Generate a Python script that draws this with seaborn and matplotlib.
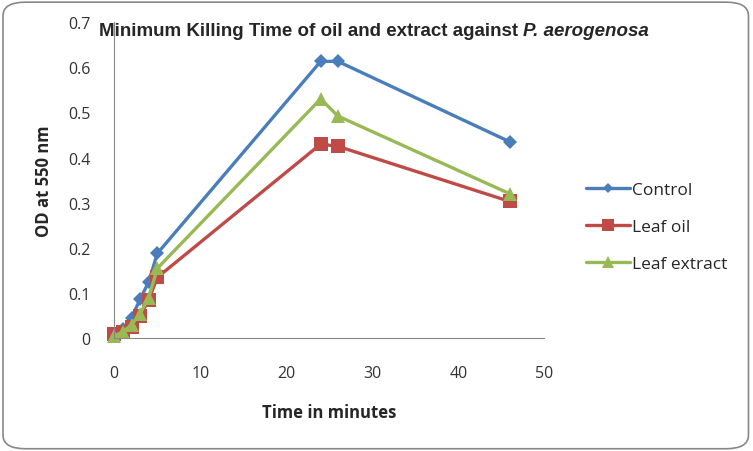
import numpy as np
import pandas as pd
import seaborn as sns
import matplotlib.pyplot as plt
from matplotlib.patches import FancyBboxPatch

# —— DATA —— #
TIME = [0, 1, 2, 3, 4, 5, 24, 26, 46]
CONTROL = [0.010, 0.020, 0.045, 0.087, 0.125, 0.188, 0.613, 0.613, 0.435]
LEAF_OIL = [0.010, 0.015, 0.025, 0.050, 0.085, 0.135, 0.430, 0.425, 0.303]
LEAF_EXTRACT = [0.005, 0.015, 0.030, 0.055, 0.090, 0.155, 0.530, 0.492, 0.320]
SERIES = ['Control', 'Leaf oil', 'Leaf extract']

COLORS = {'Control': '#4A7EBB', 'Leaf oil': '#BE4B48', 'Leaf extract': '#98B954'}
MARKERS = {'Control': 'D', 'Leaf oil': 's', 'Leaf extract': '^'}
SIZES = {'Control': 7, 'Leaf oil': 10, 'Leaf extract': 10}

df = pd.concat([
    pd.DataFrame({'time': TIME, 'od': vals, 'series': name})
    for name, vals in zip(SERIES, [CONTROL, LEAF_OIL, LEAF_EXTRACT])
])

sns.set_theme(style='white')
plt.rcParams['font.family'] = ['Open Sans', 'DejaVu Sans']

fig = plt.figure(figsize=(7.53, 4.52), dpi=100)
ax = fig.add_axes([0.1518, 0.249, 0.571, 0.700])

sns.lineplot(data=df, x='time', y='od', hue='series', style='series',
             hue_order=SERIES, style_order=SERIES, palette=COLORS,
             markers=MARKERS, dashes=False, linewidth=2.4,
             markeredgewidth=0, legend=False, ax=ax)

# per-series marker sizes
for line, name in zip(ax.get_lines(), SERIES):
    line.set_markersize(SIZES[name])
    line.set_clip_on(False)

ax.set_xlim(0, 50)
ax.set_ylim(0, 0.7)
ax.set_xticks(range(0, 51, 10))
ax.set_yticks(np.arange(0, 0.71, 0.1))
ax.set_yticklabels(['0'] + [f'{v:.1f}' for v in np.arange(0.1, 0.71, 0.1)])
ax.tick_params(axis='both', labelsize=11.5, colors='#333333', length=5,
               width=0.8, direction='out', color='#888888')
ax.tick_params(axis='x', pad=14)
ax.tick_params(axis='y', pad=12)
for side in ['top', 'right']:
    ax.spines[side].set_visible(False)
for side in ['left', 'bottom']:
    ax.spines[side].set_color('#888888')
    ax.spines[side].set_linewidth(0.8)

ax.set_xlabel('Time in minutes', fontsize=12, fontweight='bold', labelpad=16)
ax.set_ylabel('OD at 550 nm', fontsize=12, fontweight='bold', labelpad=11)

# Title with italic organism name
fig.text(0.131, 0.921, 'Minimum Killing Time of oil and extract against ',
         fontsize=13.5, fontweight='bold', family='Liberation Sans', va='baseline')
fig.canvas.draw()
t1 = fig.texts[-1]
bb = t1.get_window_extent().transformed(fig.transFigure.inverted())
fig.text(bb.x1, 0.921, 'P. aerogenosa', fontsize=13.5, fontweight='bold',
         style='italic', family='Liberation Sans', va='baseline')

# Legend
handles = [plt.Line2D([], [], color=COLORS[n], marker=MARKERS[n], lw=2.4,
                      markersize=SIZES[n] * 0.8, markeredgewidth=0)
           for n in SERIES]
fig.legend(handles, SERIES, loc='center left', bbox_to_anchor=(0.758, 0.496),
           frameon=False, fontsize=12.5, handlelength=2.5, handletextpad=0.1,
           labelspacing=1.2)

# Rounded chart border
fig.patches.append(FancyBboxPatch((0.004, 0.005), 0.990, 0.988,
                                  boxstyle='round,pad=0,rounding_size=0.03',
                                  transform=fig.transFigure, fill=False,
                                  edgecolor='#888888', linewidth=1.2))

fig.savefig('out.png', dpi=100)
